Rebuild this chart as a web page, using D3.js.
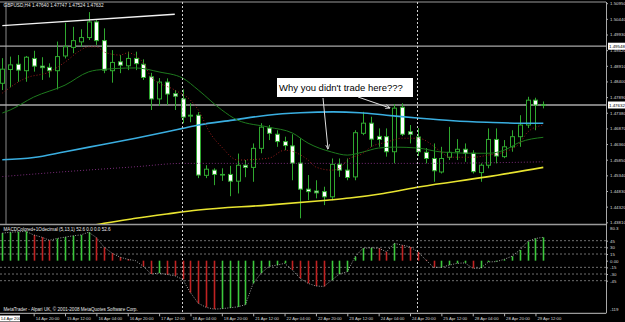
<!DOCTYPE html>
<html>
<head>
<meta charset="utf-8">
<script src="https://cdn.jsdelivr.net/npm/d3@7"></script>
<style>
body { margin:0; background:#000; }
svg { display:block; }
text { font-family:"Liberation Sans", Arial, sans-serif; }
</style>
</head>
<body>
<div id="chart-area"></div>
<script>

// GBPUSD H4 candles, bar 0 = 14 Apr 04:00, bar 69 = 29 Apr 16:00
var opens  = [1.4834,1.4879,1.4896,1.4875,1.4915,1.4890,1.4886,1.4875,1.4923,1.4951,
              1.4969,1.4983,1.5034,1.4973,1.4875,1.4904,1.4891,1.4915,1.4896,1.4855,
              1.4783,1.4838,1.4800,1.4783,1.4727,1.4730,1.4534,1.4551,1.4537,1.4537,
              1.4515,1.4567,1.4560,1.4622,1.4688,1.4668,1.4644,1.4630,1.4574,1.4489,
              1.4483,1.4481,1.4464,1.4570,1.4551,1.4529,1.4671,1.4704,1.4661,1.4660,
              1.4611,1.4756,1.4676,1.4659,1.4609,1.4589,1.4545,1.4593,1.4611,1.4619,
              1.4606,1.4543,1.4567,1.4651,1.4595,1.4627,1.4660,1.4698,1.4779,1.47640];
var highs  = [1.4916,1.4921,1.4926,1.4923,1.4940,1.4919,1.4899,1.4970,1.5031,1.5018,
              1.5010,1.5066,1.5040,1.5013,1.4942,1.4926,1.4937,1.4937,1.4912,1.4868,
              1.4851,1.4850,1.4812,1.4814,1.4769,1.4740,1.4567,1.4557,1.4557,1.4565,
              1.4605,1.4584,1.4638,1.4704,1.4698,1.4681,1.4660,1.4668,1.4655,1.4535,
              1.4518,1.4497,1.4589,1.4589,1.4589,1.4681,1.4741,1.4725,1.4687,1.4687,
              1.4766,1.4769,1.4698,1.4688,1.4623,1.4638,1.4627,1.4692,1.4652,1.4638,
              1.4616,1.4573,1.4687,1.4687,1.4649,1.4681,1.4730,1.4790,1.4787,1.47747];
var lows   = [1.4812,1.4821,1.4839,1.4839,1.4872,1.4845,1.4853,1.4814,1.4915,1.4932,
              1.4953,1.4975,1.4959,1.4867,1.4836,1.4867,1.4877,1.4877,1.4845,1.4747,
              1.4760,1.4763,1.4747,1.4704,1.4707,1.4525,1.4525,1.4502,1.4516,1.4466,
              1.4475,1.4528,1.4513,1.4606,1.4649,1.4627,1.4616,1.4518,1.4394,1.4453,
              1.4459,1.4437,1.4453,1.4529,1.4518,1.4518,1.4665,1.4627,1.4627,1.4595,
              1.4573,1.4662,1.4638,1.4597,1.4573,1.4513,1.4540,1.4584,1.4584,1.4578,
              1.4540,1.4513,1.4557,1.4573,1.4590,1.4611,1.4627,1.4688,1.4681,1.47524];
var closes = [1.4880,1.4894,1.4877,1.4919,1.4890,1.4885,1.4875,1.4921,1.4953,1.4973,
              1.4983,1.5034,1.4973,1.4877,1.4902,1.4893,1.4915,1.4898,1.4853,1.4783,
              1.4838,1.4799,1.4792,1.4724,1.4730,1.4535,1.4554,1.4537,1.4536,1.4515,
              1.4567,1.4560,1.4622,1.4691,1.4671,1.4644,1.4631,1.4574,1.4489,1.4481,
              1.4477,1.4464,1.4570,1.4551,1.4527,1.4673,1.4704,1.4652,1.4651,1.4611,
              1.4753,1.4668,1.4668,1.4611,1.4589,1.4549,1.4589,1.4609,1.4619,1.4606,
              1.4546,1.4567,1.4651,1.4597,1.4627,1.4660,1.4698,1.4779,1.4763,1.47632];

// moving averages as [bar, price]
var maGreen = [[0,1.4737],[1,1.4747],[4,1.4789],[8,1.4828],[11,1.4871],[12,1.4877],[17,1.4884],
               [20,1.4871],[23,1.4851],[25,1.4812],[28,1.4747],[30,1.4714],[34,1.4691],[37,1.4672],
               [39,1.4639],[42,1.4610],[44,1.4600],[46,1.4610],[48,1.4623],[50,1.4626],[53,1.4623],
               [56,1.4610],[60,1.4606],[62,1.4606],[64,1.4616],[66,1.4642],[69,1.4658]];
var maRed   = [[0,1.4802],[3,1.4851],[6,1.4871],[8,1.4903],[10,1.4942],[11,1.4953],[12,1.4953],
               [13,1.4936],[15,1.4926],[16,1.4933],[18,1.4900],[19,1.4854],[22,1.4812],[24,1.4779],
               [25,1.4747],[26.5,1.4672],[28,1.4626],[30,1.4584],[34,1.4590],[36,1.4616],[39,1.4584],
               [40,1.4561],[42,1.4551],[43,1.4557],[44,1.4584],[46,1.4606],[47,1.4626],[49,1.4642],
               [51,1.4655],[53,1.4655],[56,1.4610],[57,1.4593],[60,1.4593],[62,1.4600],[64,1.4610],
               [66,1.4639],[67,1.4675],[69,1.4698]];
var maBlue  = [[0,1.4585],[4,1.4592],[8,1.4611],[12.5,1.4633],[17,1.4655],[21,1.4676],[23,1.4687],
               [25,1.4698],[29.4,1.4714],[33.8,1.4730],[38,1.4738],[42.2,1.4741],[45.6,1.4738],
               [49,1.4730],[53.3,1.4720],[57.5,1.4712],[61.8,1.4707],[66,1.4704],[69,1.4704]];
var maPurple = [[0,1.4530],[8,1.4546],[17,1.4562],[23,1.4573],[53,1.4573],[69,1.4578]];
var maYellow = [[11,1.4368],[13,1.4378],[17,1.4394],[21,1.4408],[25,1.4421],[33.8,1.4437],
                [41.4,1.4453],[44.3,1.4460],[48.6,1.4475],[53.3,1.4497],[61.8,1.4529],[69,1.4560]];

// MACD (5,13,1) histogram values
var macd = [62,64,65,66,58,53,46,50,53,56,
            58,64,52,30,17,8,3,0,-13,-30,
            -28,-31,-34,-42,-72,-96,-105,-109,-108,-106,
            -104,-99,-51,-28,-13,-10,-6,-21,-40,-51,
            -57,-58,-44,-30,-25,9,28,29,28,20,
            39,35,31,20,2,-15,-15,-10,-6,-5,
            -17,-17,-3,-2,3,10,24,43,50,52.6];
var macdLevels = [45, 30, 15, -15, -30, -45];

var priceTicks = [1.50950,1.50440,1.49930,1.49420,1.48910,1.48400,1.47890,1.47380,
                  1.46870,1.46360,1.45850,1.45340,1.44830,1.44320,1.43810];
var hLines = [1.49548, 1.47632];
var timeBars = [4,8,12,16,20,24,28,32,36,40,44,48,52,56,60,64,68];
var timeLabels = ["14 Apr 20:00","15 Apr 12:00","16 Apr 04:00","16 Apr 20:00","17 Apr 12:00",
                  "18 Apr 04:00","18 Apr 20:00","21 Apr 12:00","22 Apr 04:00","22 Apr 20:00",
                  "23 Apr 12:00","24 Apr 04:00","24 Apr 20:00","25 Apr 12:00","28 Apr 04:00",
                  "28 Apr 20:00","29 Apr 12:00"];
var separatorBars = [23, 53];
var trendLine = [[0,1.5022],[22,1.5059]];

var W = 625, H = 322;
var axisX = 606;
var mainTop = 2, mainBottom = 224;
var subTop = 225, subBottom = 313.3;

var svg = d3.select("#chart-area")
    .append("svg")
    .attr("width", W)
    .attr("height", H);

svg.append("rect").attr("width", W).attr("height", H).attr("fill", "#000");

var defs = svg.append("defs");
defs.append("clipPath").attr("id", "mainClip")
    .append("rect").attr("x", 0).attr("y", mainTop).attr("width", axisX).attr("height", mainBottom - mainTop);
defs.append("marker")
    .attr("id", "arrow")
    .attr("viewBox", "0 0 10 10")
    .attr("refX", 9).attr("refY", 5)
    .attr("markerWidth", 5).attr("markerHeight", 5)
    .attr("orient", "auto")
    .append("path").attr("d", "M0,1 L10,5 L0,9").attr("fill", "none").attr("stroke", "#e0e0e0").attr("stroke-width", 1.5);

var x = d3.scaleLinear().domain([0, 69]).range([2.3, 543.3]);
var y = d3.scaleLinear().domain([1.43810, 1.50950]).range([222.3, 3.2]);
var yM = d3.scaleLinear().domain([-118.4, 80.3]).range([subBottom, subTop]);

// frame
svg.append("line").attr("x1", 0).attr("x2", axisX).attr("y1", mainTop).attr("y2", mainTop)
    .attr("stroke", "#9a9a9a").attr("stroke-width", 1.2);
svg.append("line").attr("x1", 0).attr("x2", axisX).attr("y1", mainBottom + 0.5).attr("y2", mainBottom + 0.5)
    .attr("stroke", "#9a9a9a").attr("stroke-width", 1.5);
svg.append("line").attr("x1", 0).attr("x2", axisX).attr("y1", subBottom).attr("y2", subBottom)
    .attr("stroke", "#9a9a9a").attr("stroke-width", 1.2);
svg.append("line").attr("x1", 6).attr("x2", 6).attr("y1", mainTop).attr("y2", mainBottom)
    .attr("stroke", "#8a8a8a").attr("stroke-width", 1);

var g = svg.append("g").attr("clip-path", "url(#mainClip)");

// horizontal price lines
g.selectAll(".hline")
    .data(hLines)
    .enter()
    .append("line")
    .attr("class", "hline")
    .attr("x1", 0).attr("x2", axisX)
    .attr("y1", function(d){ return y(d); })
    .attr("y2", function(d){ return y(d); })
    .attr("stroke", "#a8a8a8")
    .attr("stroke-width", 1.3);

// candles
var candles = g.selectAll(".candle")
    .data(opens)
    .enter()
    .append("g")
    .attr("class", "candle");

candles.append("line")
    .attr("x1", function(d, i){ return Math.round(x(i)) + 0.5; })
    .attr("x2", function(d, i){ return Math.round(x(i)) + 0.5; })
    .attr("y1", function(d, i){ return y(highs[i]); })
    .attr("y2", function(d, i){ return y(lows[i]); })
    .attr("stroke", "#2fa82f")
    .attr("stroke-width", 1);

candles.append("rect")
    .attr("x", function(d, i){ return Math.round(x(i)) - 1.5; })
    .attr("width", 4)
    .attr("y", function(d, i){ return y(Math.max(opens[i], closes[i])); })
    .attr("height", function(d, i){ return Math.max(0.6, Math.abs(y(opens[i]) - y(closes[i]))); })
    .attr("fill", function(d, i){ return closes[i] > opens[i] ? "#000" : "#fff"; })
    .attr("stroke", "#2fa82f")
    .attr("stroke-width", 1);

// moving averages
var maLine = d3.line()
    .x(function(d){ return x(d[0]); })
    .y(function(d){ return y(d[1]); })
    .curve(d3.curveMonotoneX);

var maStyles = [
    {data: maPurple, color: "#7a2c7a", width: 1, dash: "1,2"},
    {data: maYellow, color: "#e8e430", width: 1.6, dash: null},
    {data: maBlue, color: "#3aaee0", width: 1.6, dash: null},
    {data: maGreen, color: "#1e7a1e", width: 1, dash: null},
    {data: maRed, color: "#9a1c1c", width: 1, dash: "1,2"}
];
maStyles.forEach(function(s){
    g.append("path")
        .attr("d", maLine(s.data))
        .attr("fill", "none")
        .attr("stroke", s.color)
        .attr("stroke-width", s.width)
        .attr("stroke-dasharray", s.dash);
});

// trend line
g.append("line")
    .attr("x1", x(trendLine[0][0])).attr("y1", y(trendLine[0][1]))
    .attr("x2", x(trendLine[1][0])).attr("y2", y(trendLine[1][1]))
    .attr("stroke", "#f2f2f2")
    .attr("stroke-width", 1.4);

// vertical separators
svg.selectAll(".sep")
    .data(separatorBars)
    .enter()
    .append("line")
    .attr("class", "sep")
    .attr("x1", function(d){ return Math.round(x(d)) - 0.5; })
    .attr("x2", function(d){ return Math.round(x(d)) - 0.5; })
    .attr("y1", mainTop).attr("y2", subBottom)
    .attr("stroke", "#d0d0d0")
    .attr("stroke-width", 1)
    .attr("stroke-dasharray", "2,2");

// annotation
svg.append("rect")
    .attr("x", 277).attr("y", 78)
    .attr("width", 136).attr("height", 19)
    .attr("fill", "#fff");
svg.append("text")
    .attr("x", 279).attr("y", 91)
    .attr("font-size", "9.5px")
    .attr("fill", "#000")
    .text("Why you didn't trade here???");
svg.append("line")
    .attr("x1", 323).attr("y1", 98).attr("x2", 328).attr("y2", 149)
    .attr("stroke", "#e0e0e0").attr("stroke-width", 1)
    .attr("marker-end", "url(#arrow)");
svg.append("line")
    .attr("x1", 358).attr("y1", 97).attr("x2", 390).attr("y2", 108)
    .attr("stroke", "#e0e0e0").attr("stroke-width", 1)
    .attr("marker-end", "url(#arrow)");

// title
svg.append("text")
    .attr("x", 3.5).attr("y", 7.2)
    .attr("font-size", "4.7px")
    .attr("fill", "#e8e8e8")
    .text("GBPUSD,H4 1.47640 1.47747 1.47524 1.47632");

// price axis
var yAxisCall = d3.axisRight(y)
    .tickValues(priceTicks)
    .tickSize(2)
    .tickPadding(2)
    .tickFormat(d3.format(".5f"));
var yAxisG = svg.append("g")
    .attr("class", "y axis")
    .attr("transform", "translate(" + axisX + ",0)")
    .call(yAxisCall);
yAxisG.select(".domain").remove();
yAxisG.selectAll("line").attr("stroke", "#b0b0b0");
yAxisG.selectAll("text").attr("fill", "#d8d8d8").attr("font-size", "4.4px").attr("font-family", "Liberation Sans, Arial, sans-serif");

svg.append("line").attr("x1", axisX + 0.5).attr("x2", axisX + 0.5).attr("y1", mainTop).attr("y2", subBottom)
    .attr("stroke", "#a8a8a8").attr("stroke-width", 1);

// highlighted price boxes
hLines.forEach(function(v){
    svg.append("rect")
        .attr("x", axisX + 2).attr("y", y(v) - 3.5)
        .attr("width", 17).attr("height", 7)
        .attr("fill", "#fff");
    svg.append("text")
        .attr("x", axisX + 3).attr("y", y(v) + 1.6)
        .attr("font-size", "4.4px")
        .attr("fill", "#000")
        .text(d3.format(".5f")(v));
});

// MACD sub window
svg.selectAll(".level")
    .data(macdLevels)
    .enter()
    .append("line")
    .attr("class", "level")
    .attr("x1", 0).attr("x2", axisX)
    .attr("y1", function(d){ return yM(d); })
    .attr("y2", function(d){ return yM(d); })
    .attr("stroke", "#8a8a8a")
    .attr("stroke-width", 0.8)
    .attr("stroke-dasharray", "2,2");

svg.selectAll(".hist")
    .data(macd)
    .enter()
    .append("line")
    .attr("class", "hist")
    .attr("x1", function(d, i){ return Math.round(x(i)) + 0.5; })
    .attr("x2", function(d, i){ return Math.round(x(i)) + 0.5; })
    .attr("y1", yM(0))
    .attr("y2", function(d){ return yM(d); })
    .attr("stroke", function(d, i){
        if (i > 0 && d < macd[i - 1]) { return "#c02222"; }
        return "#3cc83c";
    })
    .attr("stroke-width", 1.6);

svg.append("path")
    .attr("d", d3.line()
        .x(function(d, i){ return x(i); })
        .y(function(d){ return yM(d); })(macd))
    .attr("fill", "none")
    .attr("stroke", "#c8c8c8")
    .attr("stroke-width", 0.8)
    .attr("stroke-dasharray", "1,1.5");

var yMAxisCall = d3.axisRight(yM)
    .tickValues([45, 30, 15, 0, -15, -30, -45])
    .tickSize(2)
    .tickPadding(2)
    .tickFormat(function(d){ return d === 0 ? "0.00" : d; });
var yMAxisG = svg.append("g")
    .attr("transform", "translate(" + axisX + ",0)")
    .call(yMAxisCall);
yMAxisG.select(".domain").remove();
yMAxisG.selectAll("line").attr("stroke", "#b0b0b0");
yMAxisG.selectAll("text").attr("fill", "#d8d8d8").attr("font-size", "4.4px").attr("font-family", "Liberation Sans, Arial, sans-serif");

svg.append("text").attr("x", axisX + 4).attr("y", yM(80.3) + 5)
    .attr("font-size", "4.4px").attr("fill", "#d8d8d8").text("80.3");
svg.append("text").attr("x", axisX + 4).attr("y", yM(-118.4) - 2)
    .attr("font-size", "4.4px").attr("fill", "#d8d8d8").text("-119");

svg.append("text")
    .attr("x", 3.5).attr("y", 231)
    .attr("font-size", "4.6px")
    .attr("fill", "#e8e8e8")
    .text("MACDColored+1Odecimal (5,13,1) 52.6 0.0 0.0 52.6");
svg.append("text")
    .attr("x", 3.5).attr("y", 311)
    .attr("font-size", "4.6px")
    .attr("fill", "#e8e8e8")
    .text("MetaTrader - Alpari UK, \u00a9 2001-2008 MetaQuotes Software Corp.");

// time axis
var xAxisCall = d3.axisBottom(x)
    .tickValues(timeBars)
    .tickSize(3)
    .tickPadding(0)
    .tickFormat(function(d, i){ return timeLabels[i]; });
var xAxisG = svg.append("g")
    .attr("class", "x axis")
    .attr("transform", "translate(0," + subBottom + ")")
    .call(xAxisCall);
xAxisG.select(".domain").remove();
xAxisG.selectAll("line").attr("stroke", "#b0b0b0");
xAxisG.selectAll("text")
    .attr("text-anchor", "start")
    .attr("x", 1.5)
    .attr("y", 3)
    .attr("dy", "0.9em")
    .attr("fill", "#d8d8d8")
    .attr("font-size", "4.2px")
    .attr("font-family", "Liberation Sans, Arial, sans-serif");

svg.append("rect").attr("x", 0).attr("y", 315.5).attr("width", 20).attr("height", 6).attr("fill", "#fff");
svg.append("text").attr("x", 0.8).attr("y", 320.3)
    .attr("font-size", "4.2px").attr("fill", "#000").text("14 Apr 2008");

</script>
</body>
</html>
